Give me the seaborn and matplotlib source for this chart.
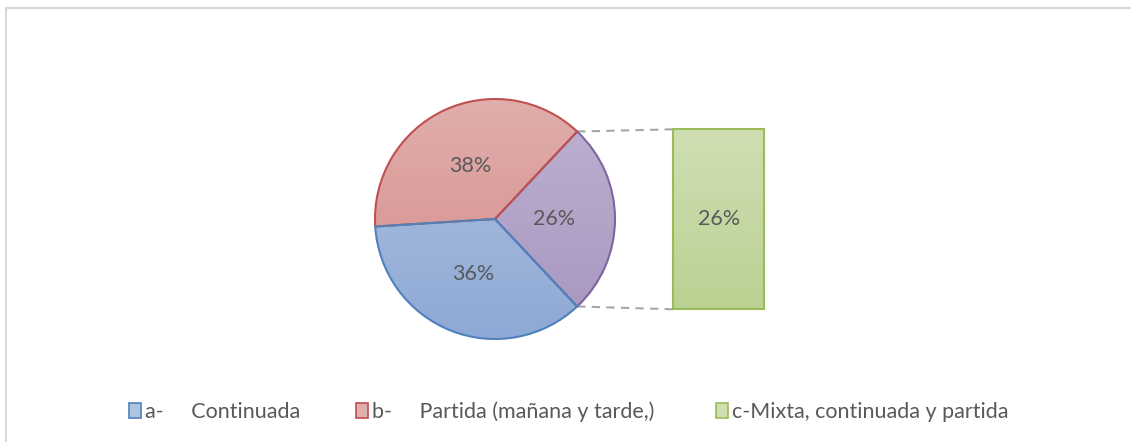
import numpy as np
import matplotlib
matplotlib.use("Agg")
import matplotlib.pyplot as plt
import seaborn as sns
from matplotlib.patches import Patch, Rectangle

sns.set_theme(style="white")
plt.rcParams['font.family'] = ['Lato', 'DejaVu Sans']

# ---- data ----
categories = ["a-     Continuada", "b-     Partida (mañana y tarde,)", "c-Mixta, continuada y partida"]
pie_values = [26, 38, 36]            # other(c), b, a  (drawn counter-clockwise)
bar_value = [26]
bar_label = ["26%"]

# ---- styles ----
edge_cols = {"a": "#4F81BD", "b": "#C0504D", "c": "#9BBB59", "o": "#8064A2"}
grad = {
    "a": ("#B0C3E0", "#8EA9D5"),
    "b": ("#E0AEAC", "#D58B89"),
    "o": ("#BDB2D0", "#A895BF"),
    "c": ("#CFDFB2", "#BAD193"),
}
txt_col = "#595959"
FS = 15.5

W, H = 1131, 442
fig = plt.figure(figsize=(W / 100, H / 100), dpi=100)
ax = fig.add_axes([0, 0, 1, 1])
ax.set_xlim(0, W)
ax.set_ylim(0, H)
ax.axis("off")

# border (chart area frame, partly cropped)
ax.add_patch(Rectangle((5.5, -10), W + 20, H - 7.5 + 10, fill=False,
                       edgecolor="#D9D9D9", lw=1.5, zorder=0))

cx, cy, r = 495, H - 219, 120
startangle = -pie_values[0] / 100 * 360 / 2
wedges, texts, autotexts = ax.pie(
    pie_values, center=(cx, cy), radius=r, startangle=startangle,
    counterclock=True, autopct=lambda p: f"{p:.0f}%", pctdistance=0.49,
    wedgeprops=dict(linewidth=1.5), frame=True,
    textprops=dict(color=txt_col, fontsize=FS))
keys = ["o", "b", "a"]
for w, k in zip(wedges, keys):
    top, bot = grad[k]
    g = np.linspace(0, 1, 256)[:, None, None]
    c1 = np.array(matplotlib.colors.to_rgb(top))
    c2 = np.array(matplotlib.colors.to_rgb(bot))
    img = c1 * (1 - g) + c2 * g
    im = ax.imshow(img, extent=[cx - r, cx + r, cy - r, cy + r], origin="upper",
                   aspect="auto", zorder=1)
    im.set_clip_path(w)
    w.set_facecolor("none")
    w.set_edgecolor(edge_cols[k])
    w.set_zorder(2)
for t in autotexts:
    t.set_zorder(3)

# bar of "other"
bar_cx, bar_w = 718.8, 91
bar_bottom = H - 309.3
scale = 180 / 26.0
bars = ax.bar([bar_cx], [v * scale for v in bar_value], width=bar_w, bottom=bar_bottom,
              facecolor="none", edgecolor=edge_cols["c"], linewidth=1.5, zorder=2)
b = bars[0]
top, bot = grad["c"]
g = np.linspace(0, 1, 256)[:, None, None]
img = np.array(matplotlib.colors.to_rgb(top)) * (1 - g) + np.array(matplotlib.colors.to_rgb(bot)) * g
ax.imshow(img, extent=[b.get_x(), b.get_x() + b.get_width(), b.get_y(), b.get_y() + b.get_height()],
          origin="upper", aspect="auto", zorder=1)
ax.text(bar_cx, bar_bottom + bar_value[0] * scale / 2, bar_label[0], ha="center", va="center",
        color=txt_col, fontsize=FS, zorder=3)

# connector lines
ow = wedges[0]
for ang, by in [(ow.theta2, b.get_y() + b.get_height()), (ow.theta1, b.get_y())]:
    px = cx + r * np.cos(np.radians(ang))
    py = cy + r * np.sin(np.radians(ang))
    ax.plot([px, b.get_x()], [py, by], color="#A6A6A6", lw=1.5, ls=(0, (4, 3)), zorder=1)

ax.set_xlim(0, W)
ax.set_ylim(0, H)
ax.axis("off")

# legend (one entry per block, placed like the original)
leg_x = [129, 356, 716]
for k, lab, lx in zip(["a", "b", "c"], categories, leg_x):
    h = Patch(facecolor=grad[k][0], edgecolor=edge_cols[k], linewidth=1.2)
    fig.legend([h], [lab], loc="center left", bbox_to_anchor=(lx / W, 30 / H),
               frameon=False, fontsize=FS, handlelength=0.55, handleheight=0.7,
               handletextpad=0.2, borderpad=0, borderaxespad=0, labelcolor=txt_col)

fig.savefig("out.png", dpi=100)
